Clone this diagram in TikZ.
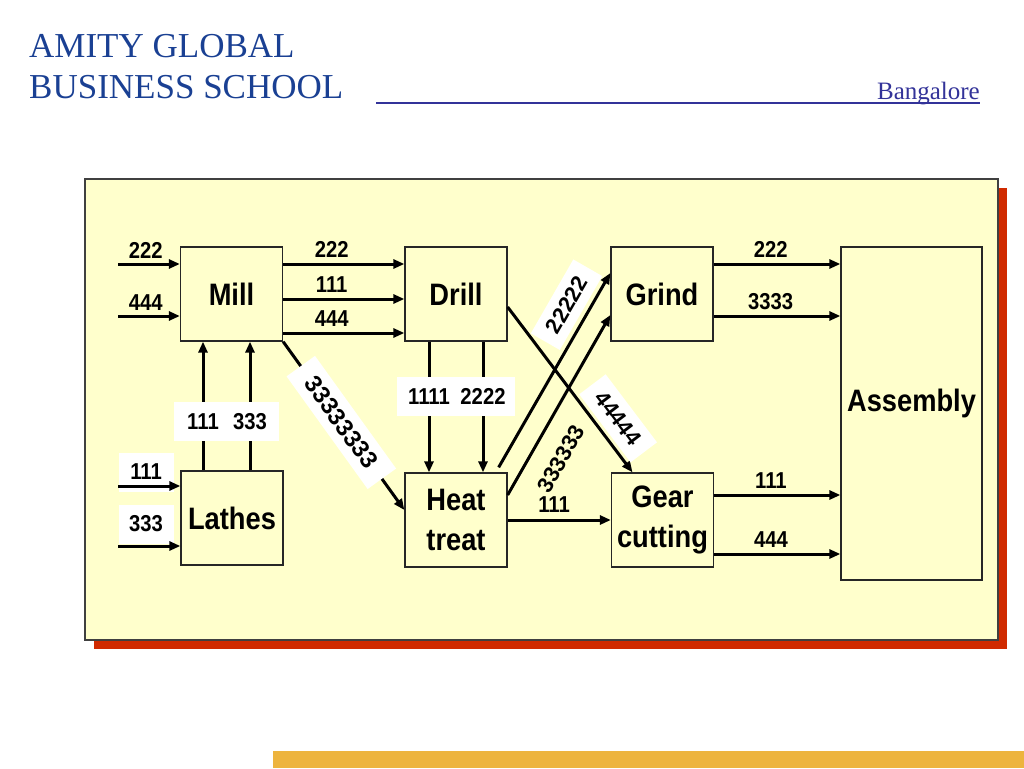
\documentclass[tikz,border=0pt]{standalone}
\usepackage{fontspec}
\usepackage{tikz}
\usetikzlibrary{arrows.meta}
\newfontfamily\headfont{Liberation Serif}
\newfontfamily\narrowfont[FakeStretch=0.88]{Liberation Sans}
\newfontfamily\plainfont{Liberation Sans}
\definecolor{paper}{HTML}{FFFFCC}
\definecolor{shadowred}{HTML}{D02A00}
\definecolor{gold}{HTML}{EDB43E}
\definecolor{amityblue}{HTML}{1A4093}
\definecolor{linepurple}{HTML}{333399}
\tikzset{
	stage/.style={draw=black!85, line width=1.3pt, fill=paper, inner sep=0pt, minimum width=102pt, minimum height=94pt, align=center, font=\narrowfont\bfseries\fontsize{31}{40}\selectfont},
	flow/.style={-{Triangle[length=11pt,width=9pt]}, line width=3pt},
	qty/.style={font=\narrowfont\bfseries\fontsize{23}{25}\selectfont, inner sep=2pt},
	tag/.style={qty, fill=white, minimum width=58pt, minimum height=39pt},
	slant/.style={font=\plainfont\bfseries\fontsize{22}{24}\selectfont, sloped, inner xsep=12pt, inner ysep=9pt},
	title/.style={anchor=base west, inner sep=0pt, text=amityblue, font=\headfont\fontsize{35}{38}\selectfont}
}
\begin{document}
\begin{tikzpicture}[x=1pt,y=-1pt]
	\useasboundingbox (0,0) rectangle (1024,768);
	\fill[shadowred] (94,188) rectangle (1007,649);
	\filldraw[fill=paper, draw=black!75, line width=1.3pt] (85,179) rectangle (998,640);
	\fill[gold] (273,751) rectangle (1024,768);
	\node[title] (amity) at (29,58) {AMITY GLOBAL};
	\node[title] (school) at (29,98) {BUSINESS SCHOOL};
	\node[anchor=base east, inner sep=0pt, text=linepurple, font=\headfont\fontsize{25}{28}\selectfont] (campus) at (980,99) {Bangalore};
	\coordinate (rule) at (376,103);
	\draw[linepurple, line width=1.3pt] (rule) -- (rule -| campus.east);

	\node[stage] (mill) at (231.5,294) {Mill};
	\node[stage] (drill) at (456,294) {Drill};
	\node[stage] (lathes) at (232,518) {Lathes};
	\node[stage] (heat) at (456,520) {Heat\\treat};
	\node[stage] (grind) at (662,294) {Grind};
	\node[stage] (gear) at (662.5,520) {Gear\\cutting};
	\node[stage, minimum width=141pt, minimum height=333pt, text depth=26pt] (assembly) at (911.5,413.5) {Assembly};

	\coordinate (m1) at (118,264);
	\coordinate (m2) at (118,316);
	\coordinate (l1) at (118,486);
	\coordinate (l2) at (118,546);
	\draw[flow] (m1) -- (m1 -| mill.west) node[qty, above=2pt, pos=0.45] {222};
	\draw[flow] (m2) -- (m2 -| mill.west) node[qty, above=2pt, pos=0.45] {444};
	\draw[flow] (l1) -- (l1 -| lathes.west) node[tag, behind path, minimum width=55pt, pos=0.45, yshift=14pt] {111};
	\draw[flow] (l2) -- (l2 -| lathes.west) node[tag, behind path, minimum width=55pt, pos=0.45, yshift=22pt] {333};

	\foreach \y/\q in {264/222, 299/111, 333/444}
		\draw[flow] (mill.east |- 0,\y) -- (drill.west |- 0,\y) node[qty, above=3pt, pos=0.4] {\q};
	\foreach \x/\q in {203/111, 250/333}
		\draw[flow] (lathes.north -| \x,0) -- (mill.south -| \x,0) node[tag, pos=0.38] {\q};
	\foreach \x/\q in {429/1111, 483/2222}
		\draw[flow] (drill.south -| \x,0) -- (heat.north -| \x,0) node[tag, minimum width=64pt, pos=0.42] {\q};

	\draw[flow] (mill.south east) -- (heat.west |- 0,510) node[slant, fill=white, inner xsep=16pt, font=\plainfont\bfseries\fontsize{24}{26}\selectfont, pos=0.48] {33333333};
	\draw[flow] (drill.east |- 0,307) -- ([xshift=-30pt]gear.north) node[slant, fill=white, pos=0.75, above=3pt] {44444};
	\draw[flow] ([shift={(-9pt,5pt)}]heat.north east) -- (grind.west |- 0,273) node[slant, fill=white, pos=0.78, above=4pt] {22222};
	\draw[flow] (heat.east |- 0,495) -- (grind.west |- 0,315) node[slant, pos=0.28, below=10pt] {333333};
	\draw[flow] (heat.east) -- (gear.west) node[qty, above=4pt, pos=0.45] {111};

	\foreach \y/\q in {264/222, 316/3333}
		\draw[flow] (grind.east |- 0,\y) -- (assembly.west |- 0,\y) node[qty, above=3pt, pos=0.45] {\q};
	\foreach \y/\q in {495/111, 554/444}
		\draw[flow] (gear.east |- 0,\y) -- (assembly.west |- 0,\y) node[qty, above=3pt, pos=0.45] {\q};
\end{tikzpicture}
\end{document}
